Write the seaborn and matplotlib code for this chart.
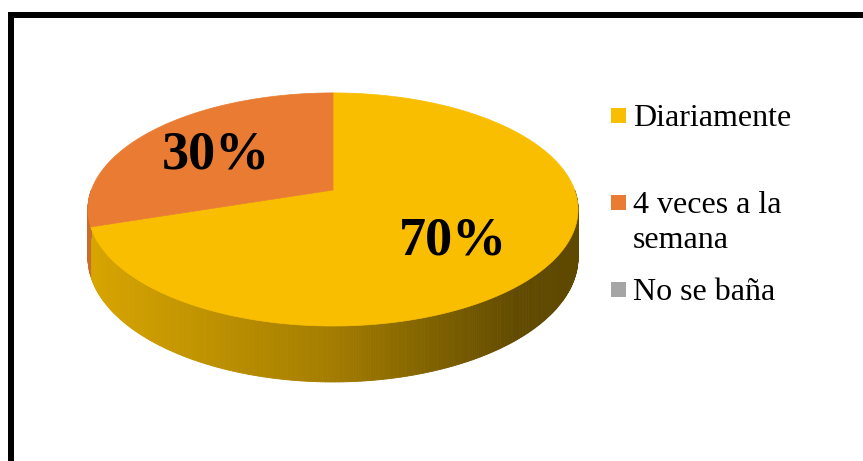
import textwrap

import numpy as np
import matplotlib
matplotlib.use("Agg")
import matplotlib.pyplot as plt
from matplotlib.patches import Polygon, Rectangle
from matplotlib.collections import PolyCollection
from matplotlib.font_manager import FontProperties
import seaborn as sns

# Data
categories = ["Diariamente", "4 veces a la semana", "No se baña"]
values = [70, 30, 0]
slice_colors = ["#F9BE00", "#E97C32", "#A5A5A5"]

sns.set_theme(style="white")
plt.rcParams["font.family"] = ["Liberation Serif", "DejaVu Serif"]
palette = sns.color_palette(slice_colors)

serif = FontProperties(family=["Liberation Serif", "DejaVu Serif"], size=23)
serif_bold = FontProperties(family=["Liberation Serif", "DejaVu Serif"],
                            weight="bold", size=39)

W, H = 863, 461
fig = plt.figure(figsize=(W / 100, H / 100), dpi=100)
ax = fig.add_axes([0, 0, 1, 1])
ax.set_xlim(0, W)
ax.set_ylim(H, 0)
ax.axis("off")

# Perspective view of a flat cylinder (pixel space)
CX, CY = 333.0, 190.0      # projected centre of the top face
A, B = 241.6, 113.3        # horizontal / depth scale
K = 0.167                  # perspective strength
T = 46.6                   # wall height


def proj(theta_deg, r=1.0, drop=0.0):
    t = np.radians(theta_deg)
    X, Y = r * np.cos(t), r * np.sin(t)
    d = 1.0 + K * Y
    return CX + A * X / d, CY - B * Y / d + drop * T / d


def wall_shade(x):
    # lighter on the left of the wall, darker towards the right
    return np.interp(x, [88, 330, 520, 578], [0.87, 0.66, 0.39, 0.38])


total = float(sum(values))
spans = []
start = 90.0
for v in values:
    end = start - 360.0 * v / total
    spans.append((end, start))
    start = end

# Side walls (only the front half, -180..0 degrees, is visible)
for (t2, t1), col in zip(spans, palette):
    if t1 - t2 <= 0:
        continue
    lo, hi = max(t2, -180.0), min(t1, 0.0)
    if hi <= lo:
        continue
    n = max(int((hi - lo) * 2), 2)
    th = np.linspace(lo, hi, n + 1)
    quads, fcs = [], []
    for a, b in zip(th[:-1], th[1:]):
        xa, ya = proj(a)
        xb, yb = proj(b)
        xa2, ya2 = proj(a, drop=1.0)
        xb2, yb2 = proj(b, drop=1.0)
        quads.append([(xa, ya), (xb, yb), (xb2, yb2), (xa2, ya2)])
        f = wall_shade((xa + xb) / 2)
        fcs.append(tuple(np.array(col) * f))
    pc = PolyCollection(quads, facecolors=fcs, edgecolors=fcs, linewidths=0.6)
    ax.add_collection(pc)

# Top faces
for (t2, t1), col in zip(spans, palette):
    if t1 - t2 <= 0:
        continue
    th = np.linspace(t1, t2, 200)
    xs, ys = proj(th)
    pts = [(CX, CY)] + list(zip(xs, ys))
    ax.add_patch(Polygon(pts, closed=True, facecolor=col, edgecolor=col, linewidth=0.5))

# Percentage labels (placed along each slice's middle direction)
label_nudge = [(-5, 9), (-6, 3), (0, 0)]
for (t2, t1), v, (dx, dy) in zip(spans, values, label_nudge):
    if v <= 0:
        continue
    mid = (t1 + t2) / 2
    lx, ly = proj(mid, r=0.6)
    ax.text(lx + dx, ly + dy, f"{v / total * 100:.0f}%", ha="center", va="center",
            fontproperties=serif_bold, color="black")

# Legend
legend_rows = [108, 195, 282]
for cat, col, y0 in zip(categories, palette, legend_rows):
    ax.add_patch(Rectangle((611, y0), 15, 15, facecolor=col, edgecolor="none"))
    for i, line in enumerate(textwrap.fill(cat, 12).split("\n")):
        ax.text(633, y0 + 18 + i * 35, line, ha="left", va="baseline",
                fontproperties=serif, color="black")

# Frame
ax.plot([11.2, 11.2, W + 10], [H + 10, 15.3, 15.3], color="black",
        linewidth=6 * 0.72, solid_joinstyle="miter", solid_capstyle="butt")

fig.savefig("out.png", dpi=100)
